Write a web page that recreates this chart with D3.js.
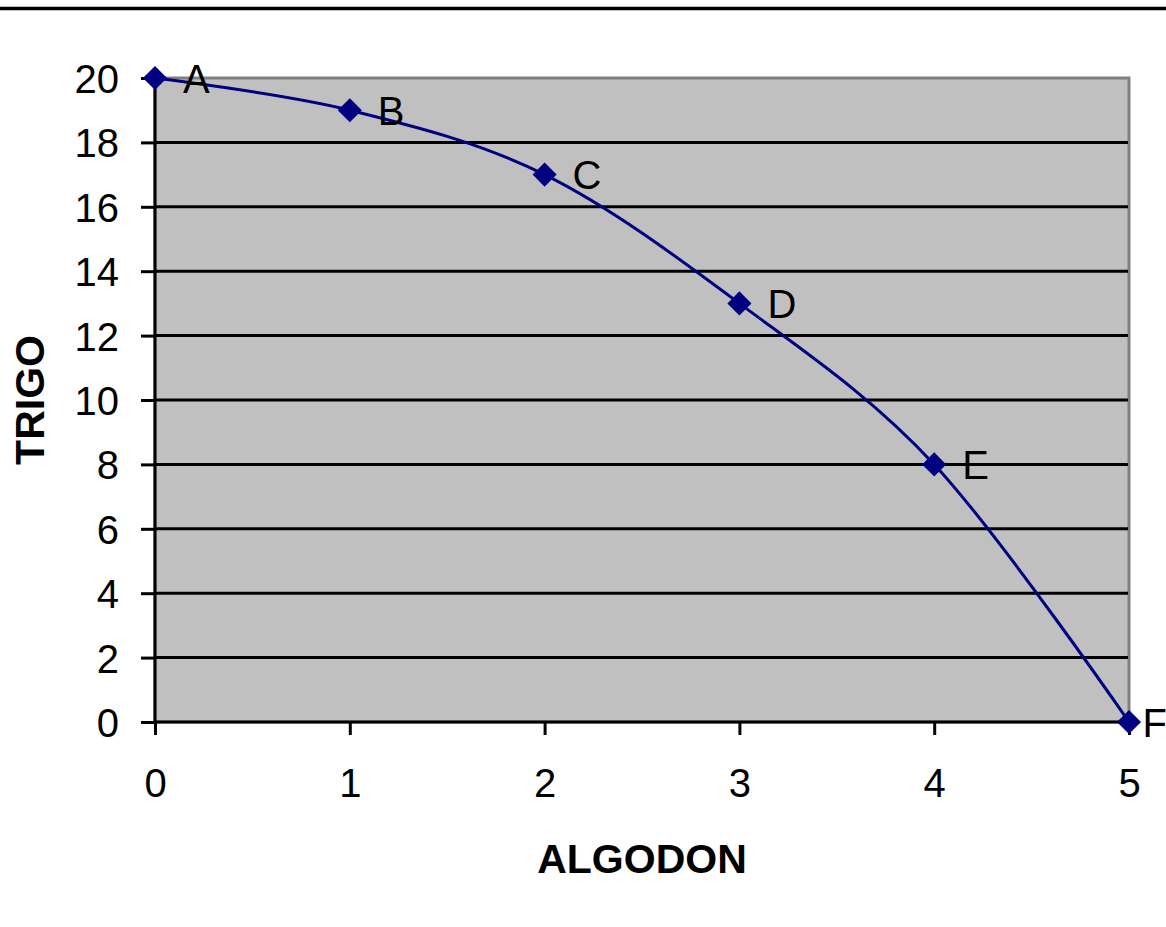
<!DOCTYPE html>
<html><head><meta charset="utf-8">
<script src="https://cdn.jsdelivr.net/npm/d3@7"></script>
<style>html,body{margin:0;padding:0;background:#fff;}svg{display:block;}</style>
</head><body>
<script>
const labels = ["A","B","C","D","E","F"];
const algodon = [0,1,2,3,4,5];
const trigo = [20,19,17,13,8,0];
const xTicks = [0,1,2,3,4,5];
const yTicks = [0,2,4,6,8,10,12,14,16,18,20];

const W = 1166, H = 927;
const L = 155, R = 1129, T = 78, B = 722;
const font = "'Liberation Sans', Arial, sans-serif";

const svg = d3.select("body").append("svg").attr("width", W).attr("height", H);

// top rule
svg.append("line").attr("x1",0).attr("x2",W).attr("y1",8.5).attr("y2",8.5)
  .attr("stroke","#000").attr("stroke-width",3.5);

const x = d3.scaleLinear().domain([0,5]).range([L,R]);
const y = d3.scaleLinear().domain([0,20]).range([B,T]);

// plot area
svg.append("rect").attr("x",x(0)).attr("y",y(20)).attr("width",x(5)-x(0)).attr("height",y(0)-y(20))
  .attr("fill","#C0C0C0").attr("stroke","#808080").attr("stroke-width",3);

// gridlines
svg.append("g").selectAll("line").data(yTicks.filter(d=>d>0 && d<20)).join("line")
  .attr("x1",x(0)).attr("x2",x(5)-1).attr("y1",d=>y(d)).attr("y2",d=>y(d))
  .attr("stroke","#000").attr("stroke-width",3);

// axes
const yAxis = d3.axisLeft(y).tickValues(yTicks).tickSize(14).tickPadding(22).tickFormat(d3.format("d"));
const gy = svg.append("g").attr("transform",`translate(${x(0)},0)`).call(yAxis);
const xAxis = d3.axisBottom(x).tickValues(xTicks).tickSize(13).tickPadding(34).tickFormat(d3.format("d"));
const gx = svg.append("g").attr("transform",`translate(0,${y(0)})`).call(xAxis);
[gx,gy].forEach(g=>{
  g.select(".domain").attr("stroke","#000").attr("stroke-width",3);
  g.selectAll(".tick line").attr("stroke","#000").attr("stroke-width",3);
  g.selectAll(".tick text").attr("fill","#000").style("font-family",font).style("font-size","40px");
});
gy.selectAll(".tick text").attr("dy","0.36em");
gx.selectAll(".tick text").attr("dy","0.71em");
gx.select(".domain").attr("d",`M${x(0)},0H${x(5)}`);
gy.select(".domain").attr("d",`M0,${y(0)}V${y(20)}`);

// line (Excel-style smoothed)
const line = d3.line().x((d,i)=>x(algodon[i])).y((d,i)=>y(trigo[i])).curve(d3.curveCatmullRom.alpha(0));
svg.append("path").datum(trigo).attr("d",line).attr("fill","none").attr("stroke","#000080").attr("stroke-width",3);

// markers
svg.append("g").selectAll("path").data(trigo).join("path")
  .attr("transform",(d,i)=>`translate(${x(algodon[i])},${y(d)}) rotate(45)`)
  .attr("d",d3.symbol().type(d3.symbolSquare).size(290)).attr("fill","#000080");

// data labels
svg.append("g").selectAll("text").data(labels).join("text")
  .text(d=>d)
  .style("font-family",font).style("font-size","40px").attr("fill","#000")
  .attr("y",(d,i)=>y(trigo[i]) + 14.5)
  .each(function(d,i){
    const len = this.getComputedTextLength();
    const px = Math.min(x(algodon[i]) + 28, W - len + 1);
    d3.select(this).attr("x", px);
  });

// axis titles
svg.append("text").text("ALGODON").attr("x",(L+R)/2).attr("y",873).attr("text-anchor","middle")
  .style("font-family",font).style("font-size","41px").style("font-weight","bold");
svg.append("text").text("TRIGO").attr("transform",`translate(44,${(T+B)/2}) rotate(-90)`).attr("text-anchor","middle")
  .style("font-family",font).style("font-size","41px").style("font-weight","bold");
</script>
</body></html>
